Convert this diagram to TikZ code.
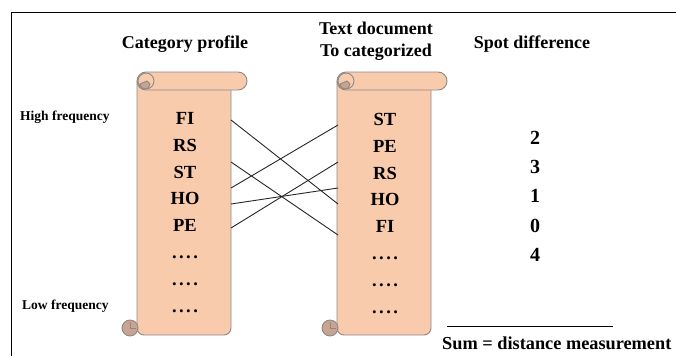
\documentclass[tikz,border=0pt]{standalone}
\usepackage{fontspec}
\setmainfont{Liberation Serif}
\usetikzlibrary{positioning}
\definecolor{scrollfill}{HTML}{F8CBAD}
\definecolor{scrolledge}{HTML}{8E8887}
\definecolor{curlfill}{HTML}{C9A491}
\tikzset{
  heading/.style={font=\bfseries\fontsize{18}{22}\selectfont, align=center, inner sep=0pt},
  sidenote/.style={font=\bfseries\fontsize{13.5}{16}\selectfont, inner sep=0pt, anchor=west},
  item/.style={font=\bfseries\fontsize{18.5}{18.5}\selectfont, inner sep=0pt, text height=12.5pt, text depth=0pt},
  score/.style={font=\bfseries\fontsize{20}{20}\selectfont, inner sep=0pt, text height=13.5pt, text depth=0pt},
  link/.style={line width=0.9pt, black!85},
  scroll body/.style={fill=scrollfill, draw=scrolledge, line width=0.9pt},
  curl/.style={fill=curlfill, draw=scrolledge, line width=0.9pt},
  scroll/.pic={
    \draw[scroll body, rounded corners=7pt] (0,9) -- (0,263) -- (94,263) -- (94,9);
    \draw[scroll body, rounded corners=9pt] (0,0) rectangle (110,18);
    \draw[scroll body] (9,9) circle (8);
    \draw[curl] (3,12) arc[start angle=180, end angle=0, radius=5] -- (10,9) -- cycle;
    \draw[curl] (-7,256) circle (8);
    \draw[scrolledge, line width=0.8pt] (-7,256) -- (-7,250) (-7,256) -- (-1,256);
  },
}
\newcommand{\dotrow}{.\kern2.5pt.\kern2.5pt.\kern2.5pt.}

\begin{document}
\begin{tikzpicture}[x=1pt, y=-1pt, node distance=14pt]
  \useasboundingbox (0,0) rectangle (676,356);
  \draw[line width=0.9pt] (11,356) -- (11,12) -- (676,12);

  \node[heading] (profile) at (185,44) {Category profile};
  \node[heading] (document) at (376,41) {Text document\\To categorized};
  \node[heading] (spot) at (532,44) {Spot difference};
  \node[sidenote] (high) at (20,117) {High frequency};
  \node[sidenote] (low) at (22,306) {Low frequency};

  \pic at (137,72) {scroll};
  \pic at (337,72) {scroll};

  % category profile
  \node[item] (fiL) at (185,118) {FI};
  \node[item, below=of fiL] (rsL) {RS};
  \node[item, below=of rsL] (stL) {ST};
  \node[item, below=of stL] (hoL) {HO};
  \node[item, below=of hoL] (peL) {PE};
  \node[item, below=of peL] (dotL1) {\dotrow};
  \node[item, below=of dotL1] (dotL2) {\dotrow};
  \node[item, below=of dotL2] (dotL3) {\dotrow};

  % document to categorize
  \node[item] (stR) at (385,119) {ST};
  \node[item, below=of stR] (peR) {PE};
  \node[item, below=of peR] (rsR) {RS};
  \node[item, below=of rsR] (hoR) {HO};
  \node[item, below=of hoR] (fiR) {FI};
  \node[item, below=of fiR] (dotR1) {\dotrow};
  \node[item, below=of dotR1] (dotR2) {\dotrow};
  \node[item, below=of dotR2] (dotR3) {\dotrow};

  % spot differences
  \node[score] (d1) at (535,138) {2};
  \node[score, below=15.2pt of d1] (d2) {3};
  \node[score, below=15.2pt of d2] (d3) {1};
  \node[score, below=15.2pt of d3] (d4) {0};
  \node[score, below=15.2pt of d4] (d5) {4};

  % crossing links
  \coordinate (p1) at (231,120);
  \coordinate (p2) at (231,162);
  \coordinate (p3) at (231,188);
  \coordinate (p4) at (231,204);
  \coordinate (p5) at (231,228);
  \coordinate (q1) at (338,125);
  \coordinate (q2) at (338,162);
  \coordinate (q3) at (338,188);
  \coordinate (q4) at (338,204);
  \coordinate (q5) at (338,235);
  \draw[link] (p1) -- (q4);
  \draw[link] (p2) -- (q5);
  \draw[link] (p3) -- (q1);
  \draw[link] (p4) -- (q3);
  \draw[link] (p5) -- (q2);

  \coordinate (sumA) at (447,326);
  \coordinate (sumB) at (613,326);
  \draw[line width=0.9pt] (sumA) -- (sumB);
  \node[heading, anchor=west, font=\bfseries\fontsize{18.3}{22}\selectfont] (sum) at (442,343) {Sum = distance measurement};
\end{tikzpicture}
\end{document}
